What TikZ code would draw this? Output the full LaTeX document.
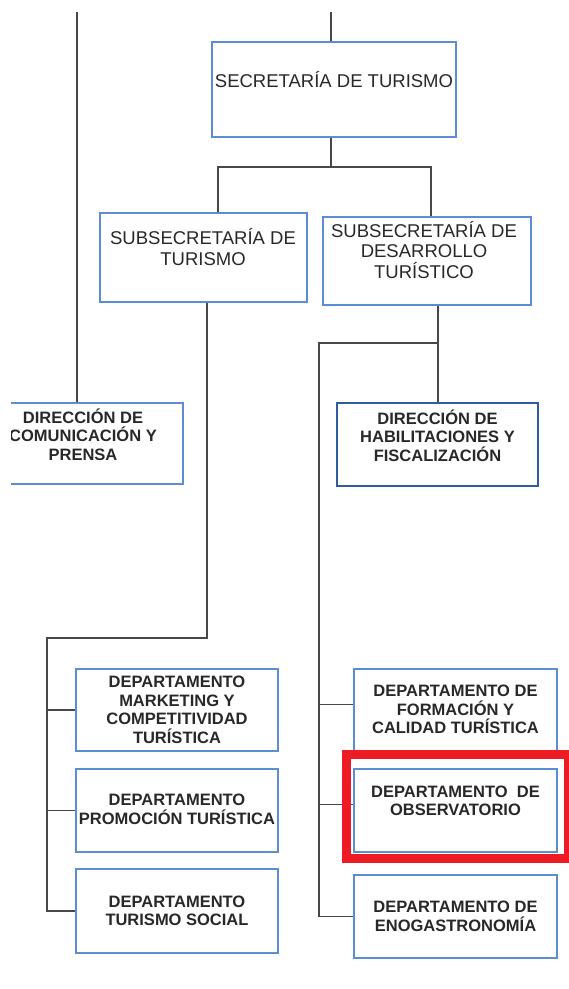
\documentclass[tikz,border=0pt]{standalone}
\usepackage{fontspec}
\setmainfont{Liberation Sans}
\usetikzlibrary{positioning}

\definecolor{boxblue}{RGB}{92,140,212}
\definecolor{boxdark}{RGB}{46,92,160}
\definecolor{linegray}{RGB}{72,72,72}
\definecolor{txtgray}{RGB}{40,40,40}
\definecolor{markred}{RGB}{237,28,36}

\tikzset{
  box/.style={draw=boxblue, line width=1.3pt, rectangle, inner sep=0pt, fill=white},
  boxdk/.style={box, draw=boxdark, line width=1.8pt},
  toptxt/.style={align=center, inner sep=0pt, text=txtgray,
    font=\fontsize{18.5}{20.5}\selectfont},
  lowtxt/.style={align=center, inner sep=0pt, text=txtgray,
    font=\fontsize{16.5}{18.6}\selectfont\bfseries},
  conn/.style={draw=linegray, line width=1.9pt},
  redmark/.style={draw=markred, line width=9pt}
}

\begin{document}
\begin{tikzpicture}[x=1pt,y=-1pt]
\useasboundingbox (0,0) rectangle (569,989);

%%    NODES   %%
\node[box, minimum width=244pt, minimum height=95pt] (sec) at (334,89.5) {};
\node[toptxt] (sec-t) at (334,80) {SECRETARÍA DE TURISMO};

\node[box, minimum width=207pt, minimum height=89pt] (subtur) at (203.5,257.5) {};
\node[toptxt] (subtur-t) at (203,247) {SUBSECRETARÍA DE\\TURISMO};

\node[box, minimum width=208pt, minimum height=88pt] (subdes) at (427,261) {};
\node[toptxt] (subdes-t) at (424,250) {SUBSECRETARÍA DE\\DESARROLLO\\TURÍSTICO};

\begin{scope}
\clip (11,0) rectangle (569,989);
\node[box, minimum width=200pt, minimum height=81pt] (dircom) at (83,443.5) {};
\node[lowtxt] (dircom-t) at (83,434.5) {DIRECCIÓN DE\\COMUNICACIÓN Y\\PRENSA};
\end{scope}

\node[boxdk, minimum width=201pt, minimum height=83pt] (dirhab) at (437.5,444.5) {};
\node[lowtxt] (dirhab-t) at (437.5,435.5) {DIRECCIÓN DE\\HABILITACIONES Y\\FISCALIZACIÓN};

\node[box, minimum width=202pt, minimum height=82pt] (mkt) at (177,710) {};
\node[lowtxt] (mkt-t) at (177,710) {DEPARTAMENTO\\MARKETING Y\\COMPETITIVIDAD\\TURÍSTICA};

\node[box, minimum width=202pt, minimum height=83pt] (prom) at (177,810.5) {};
\node[lowtxt] (prom-t) at (177,809.5) {DEPARTAMENTO\\PROMOCIÓN TURÍSTICA};

\node[box, minimum width=202pt, minimum height=84pt] (soc) at (177,911) {};
\node[lowtxt] (soc-t) at (177,911) {DEPARTAMENTO\\TURISMO SOCIAL};

\node[box, minimum width=203pt, minimum height=83pt] (form) at (455.5,710.5) {};
\node[lowtxt] (form-t) at (455.5,709.5) {DEPARTAMENTO DE\\FORMACIÓN Y\\CALIDAD TURÍSTICA};

\node[box, minimum width=203pt, minimum height=83pt] (obs) at (455.5,810.5) {};
\node[lowtxt] (obs-t) at (455.5,801) {DEPARTAMENTO\ \ DE\\OBSERVATORIO};

\node[box, minimum width=203pt, minimum height=83pt] (eno) at (455.5,916.5) {};
\node[lowtxt] (eno-t) at (455.5,916.5) {DEPARTAMENTO DE\\ENOGASTRONOMÍA};

%%    LINES    %%
\coordinate (top1) at (77,12);
\coordinate (top2) at (331,12);
\coordinate (j1) at (331,167);
\coordinate (j1a) at (218,167);
\coordinate (j1b) at (431,167);
\coordinate (j2) at (207,638);
\coordinate (lbus) at (47,638);
\coordinate (j3) at (438,343);
\coordinate (rbus) at (319,343);
\coordinate (fw) at ([yshift=6pt]form.west);
\coordinate (ow) at ([yshift=6pt]obs.west);

\draw[conn] (top1) -- (top1 |- dircom.north);
\draw[conn] (top2) -- (top2 |- sec.north);
\draw[conn] (j1 |- sec.south) -- (j1);
\draw[conn] (j1a |- subtur.north) -- (j1a) -- (j1b) -- (j1b |- subdes.north);

\draw[conn] (j2 |- subtur.south) -- (j2) -- (lbus) |- (soc.west);
\draw[conn] (lbus |- mkt.west) -- (mkt.west);
\draw[conn] (lbus |- prom.west) -- (prom.west);

\draw[conn] (j3 |- subdes.south) -- (j3 |- dirhab.north);
\draw[conn] (j3) -- (rbus) |- (eno.west);
\draw[conn] (rbus |- fw) -- (fw);
\draw[conn] (rbus |- ow) -- (ow);

%%    MARK    %%
\draw[redmark] (346.5,754.5) rectangle (568.5,858);

\end{tikzpicture}
\end{document}
